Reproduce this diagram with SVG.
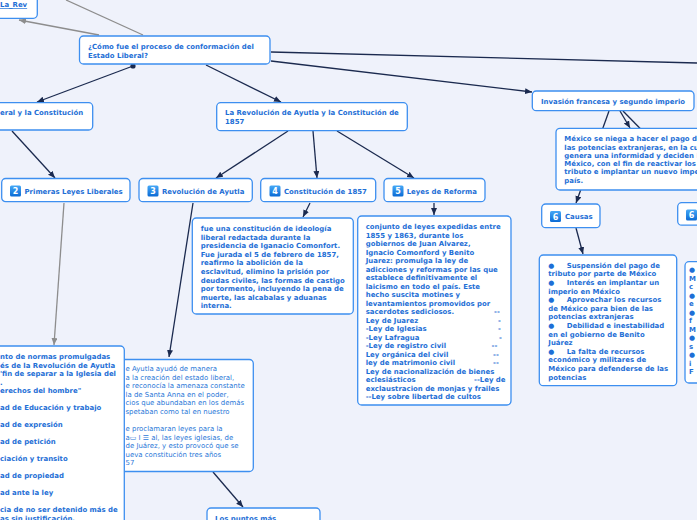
<svg xmlns="http://www.w3.org/2000/svg" width="697" height="520" viewBox="0 0 697 520">
<defs>
<style>
.bg{fill:#eff2fb}
.box{fill:#ffffff;stroke:#3d8ff0;stroke-width:1.3}
.t{font-family:"DejaVu Sans",Verdana,sans-serif;font-weight:bold;font-size:6.95px;fill:#1e6fd6}
.r{font-family:"DejaVu Sans",Verdana,sans-serif;font-size:6.95px;fill:#2a78d8}
.c{stroke:#1b2a4f;stroke-width:1.3;fill:none;marker-end:url(#ah)}
.n{stroke:#1b2a4f;stroke-width:1.3;fill:none}
.g{stroke:#8d8d8d;stroke-width:1.3;fill:none;marker-end:url(#ahg)}
.gn{stroke:#8d8d8d;stroke-width:1.3;fill:none}
.ic{fill:url(#icg)}
.it{font-family:"DejaVu Sans",Verdana,sans-serif;font-weight:bold;font-size:8px;fill:#ffffff;text-anchor:middle}
</style>
<linearGradient id="icg" x1="0" y1="0" x2="0" y2="1"><stop offset="0" stop-color="#45a8f7"/><stop offset="1" stop-color="#0b6ad4"/></linearGradient>
<marker id="ah" markerUnits="userSpaceOnUse" markerWidth="8" markerHeight="7" refX="7" refY="3" orient="auto"><path d="M0,0 L7,3 L0,6 z" fill="#1b2a4f"/></marker>
<marker id="ahg" markerUnits="userSpaceOnUse" markerWidth="8" markerHeight="7" refX="7" refY="3" orient="auto"><path d="M0,0 L7,3 L0,6 z" fill="#8d8d8d"/></marker>
</defs>
<rect class="bg" x="0" y="0" width="697" height="520"/>
<g id="connectors">
<path class="g" d="M99,35 L19,20"/>
<path class="gn" d="M143,35 L66,0"/>
<path class="n" d="M271,52 L697,63"/>
<path class="c" d="M271,61 L532,92"/>
<path class="c" d="M133,66 L37,102"/>
<path class="c" d="M206,65 L281,102"/>
<path class="c" d="M12,131 L55,178"/>
<path class="c" d="M288,131 L216,178"/>
<path class="c" d="M313,131 L317,178"/>
<path class="c" d="M337,131 L414,178"/>
<path class="c" d="M434,203 L434,215"/>
<path class="c" d="M310,203 L303,217"/>
<path class="c" d="M193,203 L169,357"/>
<path class="g" d="M64,203 L54,345"/>
<path class="c" d="M213,472 L243,507"/>
<path class="c" d="M609,111 L576,203"/>
<path class="c" d="M620,111 L630,128"/>
<path class="n" d="M623,111 L720,210"/>
<path class="c" d="M576,228 L583,254"/>
<circle cx="133" cy="66" r="2.6" fill="#1b2a4f"/>
</g>
<g id="node-larev">
<rect class="box" x="-10" y="-10" width="47.3" height="28.3" rx="4"/>
<text class="t" x="0" y="7" text-decoration="underline">La_Rev</text>
</g>
<g id="node-main">
<rect class="box" x="79.5" y="36" width="190.5" height="28" rx="4"/>
<text class="t" x="88" y="48.5">¿Cómo fue el proceso de conformación del</text>
<text class="t" x="88" y="57.5">Estado Liberal?</text>
</g>
<g id="node-reforma-liberal">
<rect class="box" x="-10" y="102.7" width="102.7" height="27.3" rx="4"/>
<text class="t" x="0" y="115">eral y la Constitución</text>
</g>
<g id="node-revolucion-1857">
<rect class="box" x="216.7" y="102.7" width="190.6" height="28" rx="4"/>
<text class="t" x="225" y="115">La Revolución de Ayutla y la Constitución de</text>
<text class="t" x="225" y="124">1857</text>
</g>
<g id="node-primeras">
<rect class="box" x="1.7" y="178.5" width="128.3" height="23.2" rx="4"/>
<rect class="ic" x="10" y="185.5" width="11" height="11" rx="1.5"/>
<text class="it" x="15.5" y="194">2</text>
<text class="t" x="24.5" y="193.5">Primeras Leyes Liberales</text>
</g>
<g id="node-ayutla">
<rect class="box" x="139" y="178.5" width="113.3" height="23.2" rx="4"/>
<rect class="ic" x="147.5" y="185.5" width="11" height="11" rx="1.5"/>
<text class="it" x="153" y="194">3</text>
<text class="t" x="162" y="193.5">Revolución de Ayutla</text>
</g>
<g id="node-constitucion">
<rect class="box" x="260.7" y="178.5" width="115" height="23.2" rx="4"/>
<rect class="ic" x="269.5" y="185.5" width="11" height="11" rx="1.5"/>
<text class="it" x="275" y="194">4</text>
<text class="t" x="284" y="193.5">Constitución de 1857</text>
</g>
<g id="node-leyes-reforma">
<rect class="box" x="384" y="178.5" width="101" height="23.2" rx="4"/>
<rect class="ic" x="392.5" y="185.5" width="11" height="11" rx="1.5"/>
<text class="it" x="398" y="194">5</text>
<text class="t" x="406.7" y="193.5">Leyes de Reforma</text>
</g>
<g id="node-constitucion-desc">
<rect class="box" x="192.3" y="218" width="161" height="96" rx="4"/>
<text class="t" x="200.7" y="231">fue una constitución de ideología</text>
<text class="t" x="200.7" y="239.6">liberal redactada durante la</text>
<text class="t" x="200.7" y="248.2">presidencia de Iganacio Comonfort.</text>
<text class="t" x="200.7" y="256.8">Fue jurada el 5 de febrero de 1857,</text>
<text class="t" x="200.7" y="265.4">reafirmo la abolición de la</text>
<text class="t" x="200.7" y="274">esclavitud, elimino la prisión por</text>
<text class="t" x="200.7" y="282.6">deudas civiles, las formas de castigo</text>
<text class="t" x="200.7" y="291.2">por tormento, incluyendo la pena de</text>
<text class="t" x="200.7" y="299.8">muerte, las alcabalas y aduanas</text>
<text class="t" x="200.7" y="308.4">interna.</text>
</g>
<g id="node-leyes-desc">
<rect class="box" x="357.7" y="216" width="153.3" height="189" rx="4"/>
<text class="t" x="365.7" y="229">conjunto de leyes expedidas entre</text>
<text class="t" x="365.7" y="237.5">1855 y 1863, durante los</text>
<text class="t" x="365.7" y="246">gobiernos  de Juan Alvarez,</text>
<text class="t" x="365.7" y="254.5">Ignacio Comonford y Benito</text>
<text class="t" x="365.7" y="263">Juarez: promulga la ley de</text>
<text class="t" x="365.7" y="271.5">adicciones y reformas por las que</text>
<text class="t" x="365.7" y="280">establece definitivamente el</text>
<text class="t" x="365.7" y="288.5">laicismo en todo el país. Este</text>
<text class="t" x="365.7" y="297">hecho suscita motines y</text>
<text class="t" x="365.7" y="305.5">levantamientos promovidos por</text>
<text class="t" x="365.7" y="314">sacerdotes sediciosos.<tspan x="494">--</tspan></text>
<text class="t" x="365.7" y="322.5">Ley de Juarez<tspan x="498">-</tspan></text>
<text class="t" x="365.7" y="331">-Ley de Iglesias<tspan x="498">-</tspan></text>
<text class="t" x="365.7" y="339.5">-Ley Lafragua<tspan x="499">-</tspan></text>
<text class="t" x="365.7" y="348">-Ley de registro civil<tspan x="491.5">--</tspan></text>
<text class="t" x="365.7" y="356.5">Ley orgánica del civil<tspan x="493">--</tspan></text>
<text class="t" x="365.7" y="365">ley de matrimonio civil<tspan x="493">--</tspan></text>
<text class="t" x="365.7" y="373.5">Ley de nacionalización de bienes</text>
<text class="t" x="365.7" y="382">eclesiásticos<tspan x="474">--Ley de</tspan></text>
<text class="t" x="365.7" y="390.5">exclaustracion de monjas y frailes</text>
<text class="t" x="365.7" y="399">--Ley sobre libertad de cultos</text>
</g>
<g id="node-invasion">
<rect class="box" x="532.3" y="91" width="161.7" height="19.7" rx="4"/>
<text class="t" x="541" y="104">Invasión francesa y segundo imperio</text>
</g>
<g id="node-mexico">
<rect class="box" x="556" y="128.3" width="160" height="61.7" rx="4"/>
<text class="t" x="564.3" y="141.2">México se niega a hacer el pago de</text>
<text class="t" x="564.3" y="149.5">las potencias extranjeras, en la cu</text>
<text class="t" x="564.3" y="157.8">genera una informidad y deciden i</text>
<text class="t" x="564.3" y="166.1">México, con el fin de reactivar los</text>
<text class="t" x="564.3" y="174.4">tributo e implantar un nuevo impe</text>
<text class="t" x="564.3" y="182.7">país.</text>
</g>
<g id="node-causas">
<rect class="box" x="541.7" y="204" width="58.3" height="23.7" rx="4"/>
<rect class="ic" x="550" y="211" width="11" height="11" rx="1.5"/>
<text class="it" x="555.5" y="219.5">6</text>
<text class="t" x="565" y="218.8">Causas</text>
</g>
<g id="node-six-right">
<rect class="box" x="677.7" y="202.7" width="40" height="22.5" rx="4"/>
<rect class="ic" x="686" y="209.5" width="11" height="11" rx="1.5"/>
<text class="it" x="691.5" y="218">6</text>
</g>
<g id="node-causas-desc">
<rect class="box" x="539.3" y="255" width="137.4" height="130.7" rx="4"/>
<text class="t" x="548.3" y="267.8">●<tspan x="566.7">Suspensión del pago de</tspan></text>
<text class="t" x="548.3" y="276.4">tributo por parte de México</text>
<text class="t" x="548.3" y="285">●<tspan x="566.7">Interés en implantar un</tspan></text>
<text class="t" x="548.3" y="293.6">imperio en México</text>
<text class="t" x="548.3" y="302.2">●<tspan x="566.7">Aprovechar los recursos</tspan></text>
<text class="t" x="548.3" y="310.8">de México para bien de las</text>
<text class="t" x="548.3" y="319.4">potencias extranjeras</text>
<text class="t" x="548.3" y="328">●<tspan x="566.7">Debilidad e inestabilidad</tspan></text>
<text class="t" x="548.3" y="336.6">en el gobierno de Benito</text>
<text class="t" x="548.3" y="345.2">Juárez</text>
<text class="t" x="548.3" y="353.8">●<tspan x="566.7">La falta de recursos</tspan></text>
<text class="t" x="548.3" y="362.4">económico y militares de</text>
<text class="t" x="548.3" y="371">México para defenderse de las</text>
<text class="t" x="548.3" y="379.6">potencias</text>
</g>
<g id="node-right-desc">
<rect class="box" x="685" y="261.7" width="40" height="121.3" rx="4"/>
<text class="t" x="689" y="272">●</text>
<text class="t" x="689" y="280.5">M</text>
<text class="t" x="689" y="289">c</text>
<text class="t" x="689" y="297.5">●</text>
<text class="t" x="689" y="306">e</text>
<text class="t" x="689" y="314.5">●</text>
<text class="t" x="689" y="323">f</text>
<text class="t" x="689" y="331.5">M</text>
<text class="t" x="689" y="340">●</text>
<text class="t" x="689" y="348.5">s</text>
<text class="t" x="689" y="357">●</text>
<text class="t" x="689" y="365.5">i</text>
<text class="t" x="689" y="374">F</text>
</g>
<g id="node-ayutla-desc">
<rect class="box" x="100" y="359.5" width="153.3" height="112" rx="4"/>
<text class="r" x="125.5" y="371">e Ayutla ayudó de manera</text>
<text class="r" x="125.5" y="379.5">a la creación del estado liberal,</text>
<text class="r" x="125.5" y="388">e reconocía la amenaza constante</text>
<text class="r" x="125.5" y="396.5">la de Santa Anna en el poder,</text>
<text class="r" x="125.5" y="405">cios que abundaban en los demás</text>
<text class="r" x="125.5" y="413.5">spetaban como tal en nuestro</text>
<text class="r" x="125.5" y="431">e proclamaran leyes para la</text>
<text class="r" x="125.5" y="439.5">a▭ I ☰ al, las leyes iglesias, de</text>
<text class="r" x="125.5" y="448">de Juárez, y esto provocó que se</text>
<text class="r" x="125.5" y="456.5">ueva constitución tres años</text>
<text class="r" x="125.5" y="465">57</text>
</g>
<g id="node-primeras-desc">
<rect class="box" x="-10" y="346" width="134.3" height="200" rx="4"/>
<text class="t" x="0" y="359">nto de normas promulgadas</text>
<text class="t" x="0" y="367.5">és de la Revolución de Ayutla</text>
<text class="t" x="0" y="376">'fin de separar a la Iglesia del</text>
<text class="t" x="0" y="384.5">.</text>
<text class="t" x="0" y="393">erechos del hombre"</text>
<text class="t" x="0" y="410">ad de Educación y trabajo</text>
<text class="t" x="0" y="427">ad de expresión</text>
<text class="t" x="0" y="444">ad de petición</text>
<text class="t" x="0" y="461">ciación y transito</text>
<text class="t" x="0" y="478">ad de propiedad</text>
<text class="t" x="0" y="495">ad ante la ley</text>
<text class="t" x="0" y="512">cia de no ser detenido más de</text>
<text class="t" x="0" y="520.5">as sin justificación.</text>
</g>
<g id="node-puntos">
<rect class="box" x="207" y="508" width="113" height="30" rx="4"/>
<text class="t" x="215" y="521">Los puntos más</text>
</g>
</svg>
